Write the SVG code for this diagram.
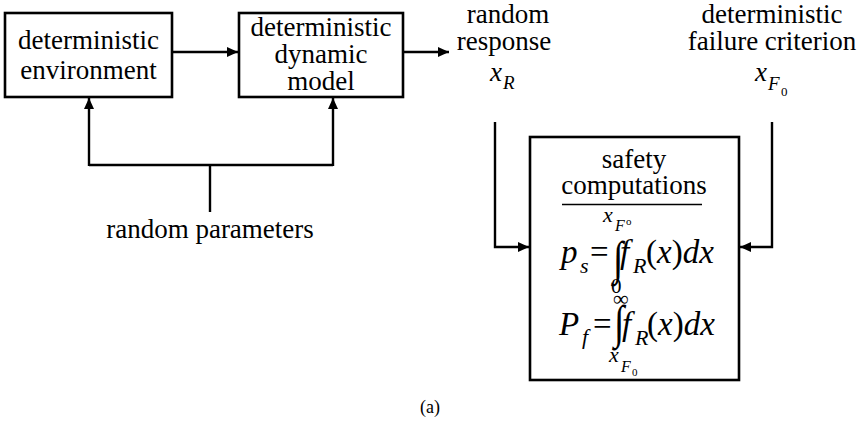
<svg xmlns="http://www.w3.org/2000/svg" width="861" height="422" viewBox="0 0 861 422">
<defs>
<marker id="ah" markerUnits="userSpaceOnUse" markerWidth="12" markerHeight="10" refX="11" refY="5" orient="auto">
<path d="M0,0 L11,5 L0,10 Z" fill="#000"/>
</marker>
<style>
text{font-family:"Liberation Serif","Times New Roman",serif;fill:#000}
.box{fill:#fff;stroke:#000;stroke-width:2.6}
.t{font-size:27px;text-anchor:middle}
.m{font-style:italic}
.c{fill:none;stroke:#000;stroke-width:2.4}
</style>
</defs>
<rect width="861" height="422" fill="#fff"/>
<g id="connectors">
<path class="c" d="M172,52 H238" marker-end="url(#ah)"/>
<path class="c" d="M403,52 H449" marker-end="url(#ah)"/>
<path class="c" d="M210,212 V165"/>
<path class="c" d="M89,165 H333"/>
<path class="c" d="M89,166 V98" marker-end="url(#ah)"/>
<path class="c" d="M333,166 V98" marker-end="url(#ah)"/>
<path class="c" d="M495,122 V247 H529" marker-end="url(#ah)"/>
<path class="c" d="M772,122 V247 H740" marker-end="url(#ah)"/>
</g>
<g id="env">
<rect class="box" x="5" y="13" width="167" height="84"/>
<text class="t" x="88.5" y="49">deterministic</text>
<text class="t" x="88.5" y="79">environment</text>
</g>
<g id="model">
<rect class="box" x="239" y="13" width="164" height="84"/>
<text class="t" x="321" y="36">deterministic</text>
<text class="t" x="321" y="63">dynamic</text>
<text class="t" x="321" y="90">model</text>
</g>
<g id="params">
<text class="t" x="210" y="238">random parameters</text>
</g>
<g id="response">
<text class="t" x="508" y="23">random</text>
<text class="t" x="504" y="50">response</text>
<text class="m" x="490" y="81" font-size="27">x</text>
<text class="m" x="503" y="89" font-size="19">R</text>
</g>
<g id="criterion">
<text class="t" x="772" y="23">deterministic</text>
<text class="t" x="772" y="50">failure criterion</text>
<text class="m" x="755" y="81" font-size="27">x</text>
<text class="m" x="768" y="90" font-size="19">F</text>
<text x="781" y="96" font-size="13">0</text>
</g>
<g id="safety">
<rect class="box" x="530" y="137" width="209" height="243"/>
<text class="t" x="634" y="168">safety</text>
<text class="t" x="634" y="194">computations</text>
<line x1="562" y1="204.5" x2="702" y2="204.5" stroke="#000" stroke-width="1.6"/>
<text class="m" x="603" y="222" font-size="22">x</text>
<text class="m" x="615" y="231" font-size="16">F</text>
<text x="626" y="225" font-size="11">o</text>
<text class="m" x="561" y="263" font-size="33">p</text>
<text class="m" x="580" y="273" font-size="22">s</text>
<text x="590" y="263" font-size="33">=</text>
<text transform="translate(613,274) scale(0.8,1)" font-size="47">∫</text>
<text class="m" x="620" y="263" font-size="33">f</text>
<text class="m" x="633" y="273" font-size="22">R</text>
<text x="646" y="263" font-size="33">(<tspan class="m">x</tspan>)<tspan class="m">dx</tspan></text>
<text x="611" y="293" font-size="21">0</text>
<text x="613" y="306" font-size="22">∞</text>
<text class="m" x="559" y="335" font-size="33">P</text>
<text class="m" x="582" y="344" font-size="22">f</text>
<text x="593" y="335" font-size="33">=</text>
<text transform="translate(614,338) scale(0.8,1)" font-size="47">∫</text>
<text class="m" x="622" y="335" font-size="33">f</text>
<text class="m" x="635" y="345" font-size="22">R</text>
<text x="647" y="335" font-size="33">(<tspan class="m">x</tspan>)<tspan class="m">dx</tspan></text>
<text class="m" x="609" y="362" font-size="22">x</text>
<text class="m" x="621" y="372" font-size="16">F</text>
<text x="632" y="376" font-size="11">0</text>
</g>
<g id="caption">
<text x="430" y="413" font-size="18" text-anchor="middle">(a)</text>
</g>
</svg>
